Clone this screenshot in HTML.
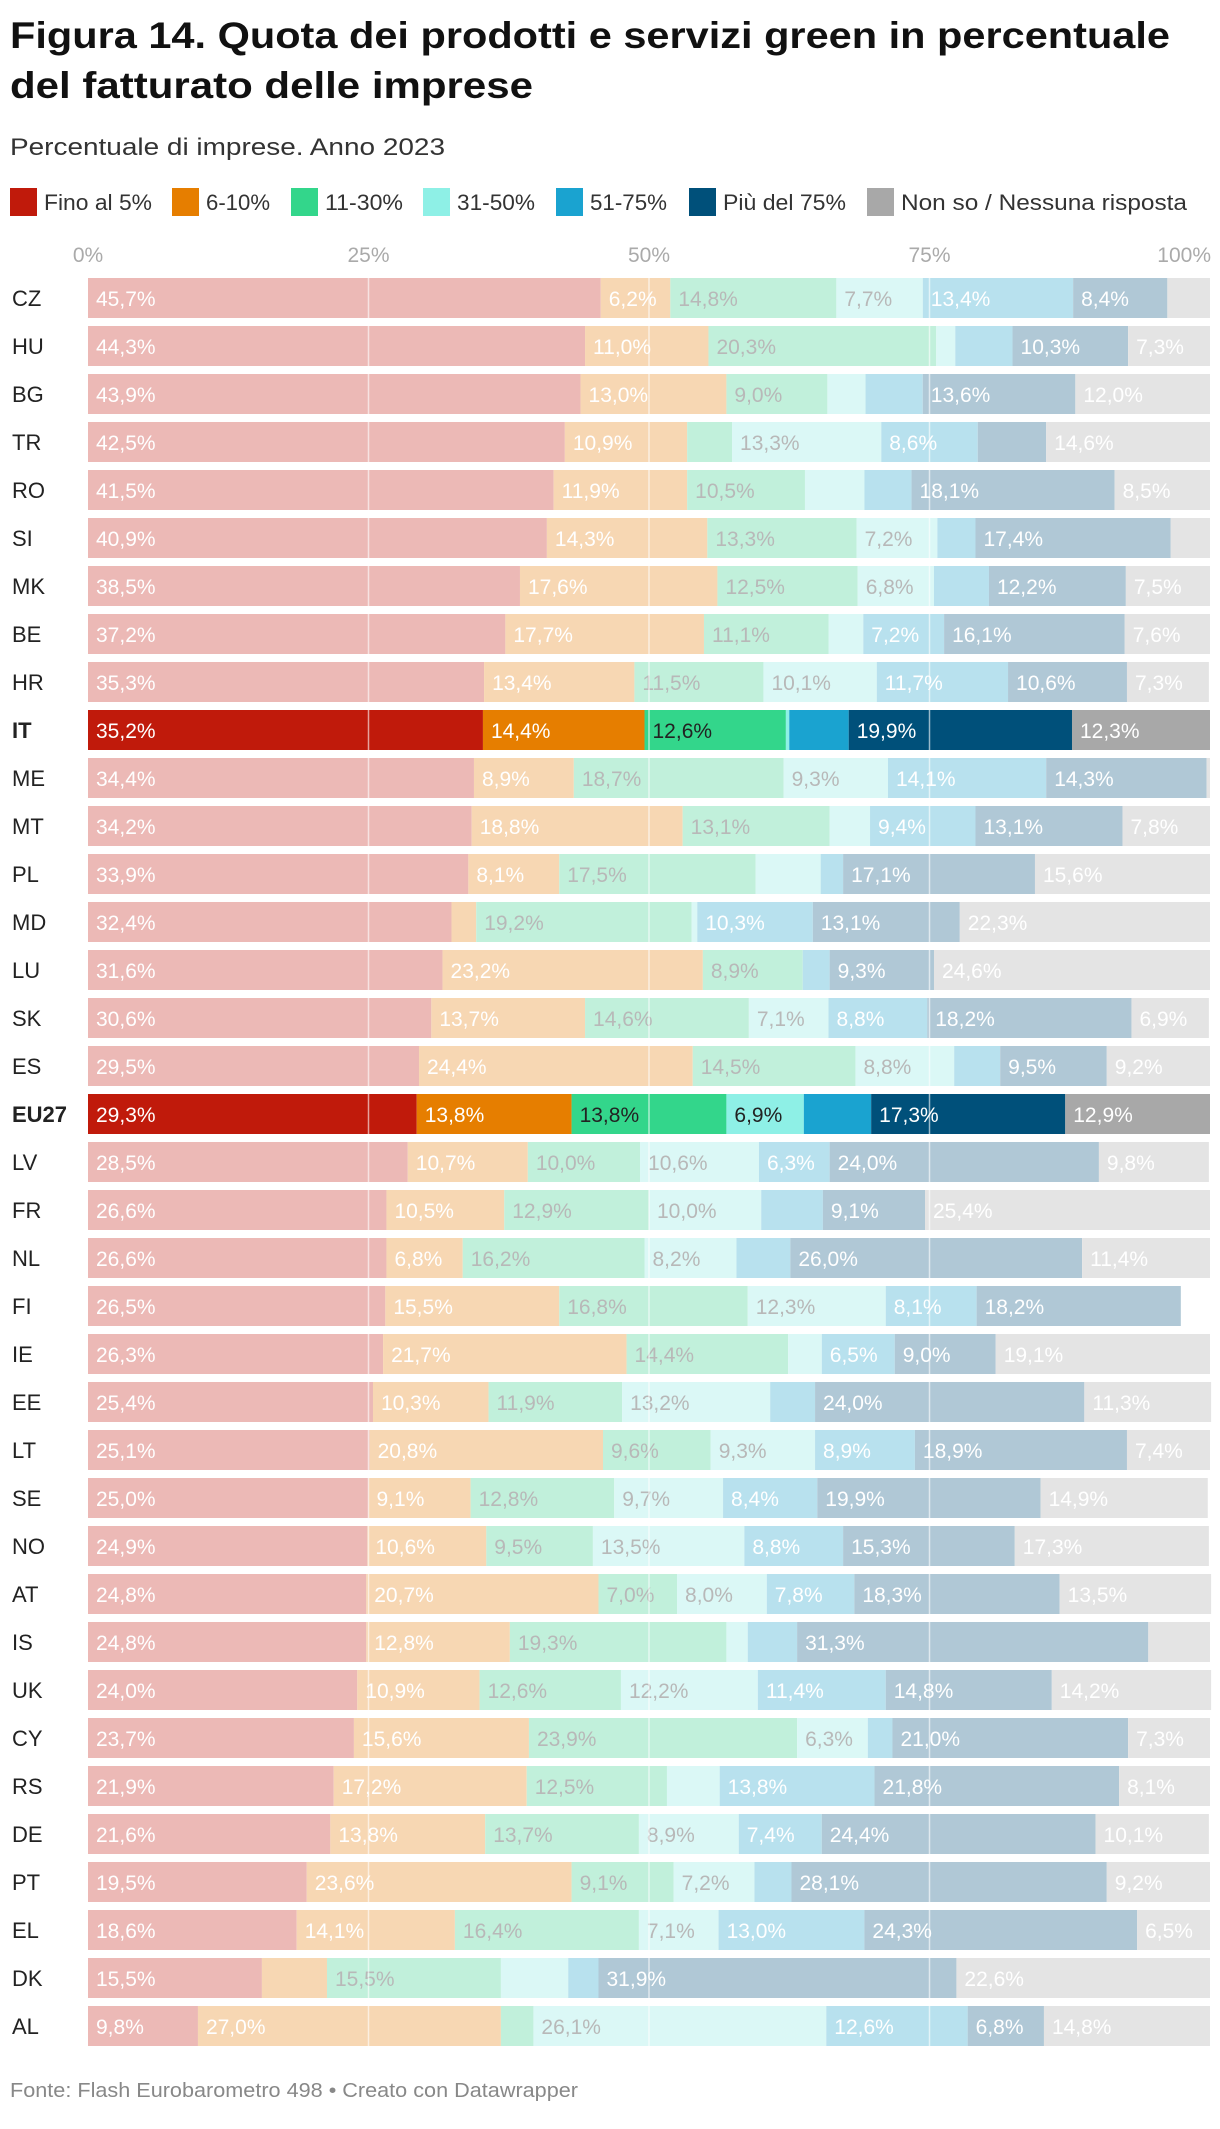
<!DOCTYPE html>
<html><head><meta charset="utf-8"><style>
body{margin:0;background:#fff;}
svg text{font-family:"Liberation Sans",sans-serif;}
</style></head><body>
<svg id="chart" width="1220" height="2124" viewBox="0 0 1220 2124" xmlns="http://www.w3.org/2000/svg">
<text x="10" y="48" font-size="37" font-weight="bold" fill="#111" textLength="1160" lengthAdjust="spacingAndGlyphs">Figura 14. Quota dei prodotti e servizi green in percentuale</text>
<text x="10" y="98" font-size="37" font-weight="bold" fill="#111" textLength="523" lengthAdjust="spacingAndGlyphs">del fatturato delle imprese</text>
<text x="10" y="155" font-size="24" fill="#333" textLength="435" lengthAdjust="spacingAndGlyphs">Percentuale di imprese. Anno 2023</text>
<g id="legend"></g>
<g id="ticks"></g>
<g id="rows"></g>
<g id="grid"></g>
<text x="10" y="2097" font-size="20" fill="#888" textLength="568" lengthAdjust="spacingAndGlyphs">Fonte: Flash Eurobarometro 498 • Creato con Datawrapper</text>
</svg>
<script>
const countries=["CZ","HU","BG","TR","RO","SI","MK","BE","HR","IT","ME","MT","PL","MD","LU","SK","ES","EU27","LV","FR","NL","FI","IE","EE","LT","SE","NO","AT","IS","UK","CY","RS","DE","PT","EL","DK","AL"];
const highlighted=["IT","EU27"];
const fino5=[45.7,44.3,43.9,42.5,41.5,40.9,38.5,37.2,35.3,35.2,34.4,34.2,33.9,32.4,31.6,30.6,29.5,29.3,28.5,26.6,26.6,26.5,26.3,25.4,25.1,25.0,24.9,24.8,24.8,24.0,23.7,21.9,21.6,19.5,18.6,15.5,9.8];
const p6_10=[6.2,11.0,13.0,10.9,11.9,14.3,17.6,17.7,13.4,14.4,8.9,18.8,8.1,2.2,23.2,13.7,24.4,13.8,10.7,10.5,6.8,15.5,21.7,10.3,20.8,9.1,10.6,20.7,12.8,10.9,15.6,17.2,13.8,23.6,14.1,5.8,27.0];
const p11_30=[14.8,20.3,9.0,4.0,10.5,13.3,12.5,11.1,11.5,12.6,18.7,13.1,17.5,19.2,8.9,14.6,14.5,13.8,10.0,12.9,16.2,16.8,14.4,11.9,9.6,12.8,9.5,7.0,19.3,12.6,23.9,12.5,13.7,9.1,16.4,15.5,2.9];
const p31_50=[7.7,1.7,3.4,13.3,5.3,7.2,6.8,3.1,10.1,0.3,9.3,3.6,5.8,0.5,0,7.1,8.8,6.9,10.6,10.0,8.2,12.3,3.0,13.2,9.3,9.7,13.5,8.0,1.9,12.2,6.3,4.7,8.9,7.2,7.1,6.0,26.1];
const p51_75=[13.4,5.1,5.1,8.6,4.2,3.4,4.9,7.2,11.7,5.3,14.1,9.4,2.0,10.3,2.4,8.8,4.1,6.0,6.3,5.5,4.8,8.1,6.5,4.0,8.9,8.4,8.8,7.8,4.4,11.4,2.2,13.8,7.4,3.3,13.0,2.7,12.6];
const oltre75=[8.4,10.3,13.6,6.1,18.1,17.4,12.2,16.1,10.6,19.9,14.3,13.1,17.1,13.1,9.3,18.2,9.5,17.3,24.0,9.1,26.0,18.2,9.0,24.0,18.9,19.9,15.3,18.3,31.3,14.8,21.0,21.8,24.4,28.1,24.3,31.9,6.8];
const nonSo=[3.8,7.3,12.0,14.6,8.5,3.5,7.5,7.6,7.3,12.3,0.3,7.8,15.6,22.3,24.6,6.9,9.2,12.9,9.8,25.4,11.4,0,19.1,11.3,7.4,14.9,17.3,13.5,5.5,14.2,7.3,8.1,10.1,9.2,6.5,22.6,14.8];
const seriesNames=["Fino al 5%","6-10%","11-30%","31-50%","51-75%","Più del 75%","Non so / Nessuna risposta"];
const tickValues=[0,25,50,75,100];
const series=[fino5,p6_10,p11_30,p31_50,p51_75,oltre75,nonSo];
const strong=["#c01a0b","#e67e00","#33d68b","#8ef0e6","#1aa3d0","#00507a","#a8a8a8"];
const faded=["#ecb9b6","#f7d7b3","#c1f0db","#dbf8f6","#b8e1ee","#b0c8d6","#e4e4e4"];
const fadedLabel=["#fff","#fff","#b8b8b8","#b8b8b8","#fff","#fff","#fff"];
const strongLabel=["#fff","#fff","#222","#222","#fff","#fff","#fff"];
const X0=88,W=1122,TOP=278,PITCH=48,BH=40;
const xs=v=>X0+v/100*W;
const ns="http://www.w3.org/2000/svg";
function mk(tag,attrs,parent,txt){const e=document.createElementNS(ns,tag);for(const k in attrs)e.setAttribute(k,attrs[k]);if(txt!==undefined)e.textContent=txt;parent.appendChild(e);return e;}
const legX=[10,172,291,423,556,689,867];
const legW=[108,64,78,78,77,123,286];
const lg=document.getElementById('legend');
seriesNames.forEach((n,i)=>{
 const r=mk('rect',{x:legX[i],y:188,width:27,height:28,fill:strong[i]},lg);
 
 
 const t=mk('text',{x:legX[i]+34,y:210,'font-size':22,fill:'#333',textLength:legW[i],lengthAdjust:'spacingAndGlyphs'},lg,n);
 
 
});
const tg=document.getElementById('ticks');
tickValues.forEach((v,i)=>{
 const anchor=i===tickValues.length-1?'end':'middle';
 const x=i===tickValues.length-1?xs(v)+1:xs(v);
 const t=mk('text',{x:x,y:262,'font-size':21,fill:'#aaa','text-anchor':anchor},tg,v+'%');
 
 
});
const rg=document.getElementById('rows');
countries.forEach((c,ri)=>{
 const y=TOP+ri*PITCH;
 const hl=highlighted.includes(c);
 const g=mk('g',{},rg);
 
 
 const lab=mk('text',{x:12,y:y+28,'font-size':22,fill:'#222','font-weight':hl?'bold':'normal'},g,c);
 
 
 let acc=0;
 series.forEach((s,si)=>{
  const v=s[ri];
  if(v>0){
   const r=mk('rect',{x:xs(acc),y:y,width:xs(acc+v)-xs(acc),height:BH,fill:hl?strong[si]:faded[si]},g);
   
   
   if(v>=6.2){
    const t=mk('text',{x:xs(acc)+8,y:y+28,'font-size':21,fill:hl?strongLabel[si]:fadedLabel[si]},g,v.toFixed(1).replace('.',',')+'%');
    
    
   }
  }
  acc+=v;
 });
});
const gg=document.getElementById('grid');
[25,50,75].forEach(v=>{
 const l=mk('line',{x1:xs(v),x2:xs(v),y1:TOP,y2:TOP+(countries.length-1)*PITCH+BH,stroke:'rgba(255,255,255,0.6)','stroke-width':1.5},gg);
 
 
});
</script>
</body></html>
